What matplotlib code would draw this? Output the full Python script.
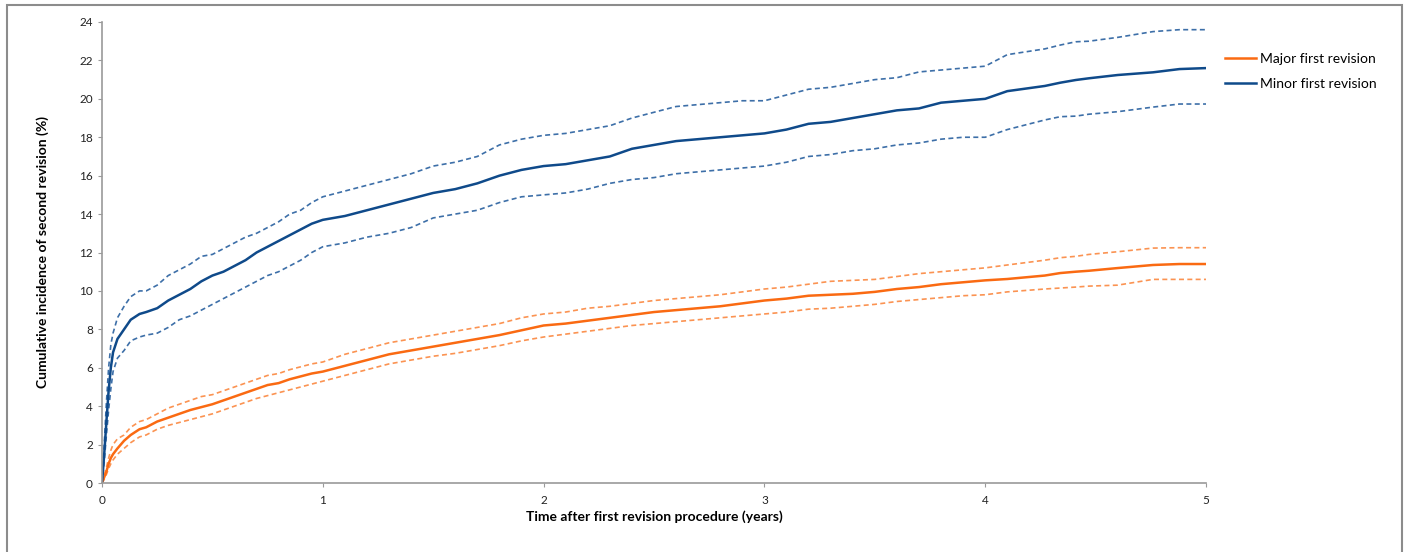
import numpy as np
import matplotlib.pyplot as plt
from matplotlib.patches import Rectangle

plt.rcParams['font.family'] = ['Lato', 'DejaVu Sans']

# time points (years)
t = [0, 0.01, 0.02, 0.03, 0.04, 0.05, 0.07, 0.1, 0.13, 0.17, 0.2, 0.25, 0.3, 0.35, 0.4, 0.45,
     0.5, 0.55, 0.6, 0.65, 0.7, 0.75, 0.8, 0.85, 0.9, 0.95, 1.0, 1.1, 1.2, 1.3, 1.4, 1.5,
     1.6, 1.7, 1.8, 1.9, 2.0, 2.1, 2.2, 2.3, 2.4, 2.5, 2.6, 2.7, 2.8, 2.9, 3.0, 3.1, 3.2,
     3.3, 3.4, 3.5, 3.6, 3.7, 3.8, 3.9, 4.0, 4.1, 4.27, 4.34, 4.41, 4.47, 4.6, 4.76, 4.88, 5.0]

minor = [0, 1.5, 3.2, 4.8, 6.0, 6.8, 7.5, 8.0, 8.5, 8.8, 8.9, 9.1, 9.5, 9.8, 10.1, 10.5,
         10.8, 11.0, 11.3, 11.6, 12.0, 12.3, 12.6, 12.9, 13.2, 13.5, 13.7, 13.9, 14.2, 14.5, 14.8, 15.1,
         15.3, 15.6, 16.0, 16.3, 16.5, 16.6, 16.8, 17.0, 17.4, 17.6, 17.8, 17.9, 18.0, 18.1, 18.2, 18.4, 18.7,
         18.8, 19.0, 19.2, 19.4, 19.5, 19.8, 19.9, 20.0, 20.4, 20.67, 20.84, 20.98, 21.07, 21.24, 21.38, 21.55, 21.6]
minor_hi = [0, 2.0, 4.2, 6.0, 7.2, 7.8, 8.6, 9.2, 9.7, 10.0, 10.0, 10.3, 10.8, 11.1, 11.4, 11.8,
            11.9, 12.2, 12.5, 12.8, 13.0, 13.3, 13.6, 14.0, 14.2, 14.6, 14.9, 15.2, 15.5, 15.8, 16.1, 16.5,
            16.7, 17.0, 17.6, 17.9, 18.1, 18.2, 18.4, 18.6, 19.0, 19.3, 19.6, 19.7, 19.8, 19.9, 19.9, 20.2, 20.5,
            20.6, 20.8, 21.0, 21.1, 21.4, 21.5, 21.6, 21.7, 22.3, 22.6, 22.8, 22.97, 23.0, 23.2, 23.5, 23.6, 23.6]
minor_lo = [0, 1.1, 2.5, 3.8, 4.9, 5.8, 6.5, 6.9, 7.4, 7.6, 7.7, 7.8, 8.1, 8.5, 8.7, 9.0,
            9.3, 9.6, 9.9, 10.2, 10.5, 10.8, 11.0, 11.3, 11.6, 12.0, 12.3, 12.5, 12.8, 13.0, 13.3, 13.8,
            14.0, 14.2, 14.6, 14.9, 15.0, 15.1, 15.3, 15.6, 15.8, 15.9, 16.1, 16.2, 16.3, 16.4, 16.5, 16.7, 17.0,
            17.1, 17.3, 17.4, 17.6, 17.7, 17.9, 18.0, 18.0, 18.4, 18.9, 19.07, 19.1, 19.2, 19.33, 19.57, 19.73, 19.73]

major = [0, 0.3, 0.6, 1.0, 1.3, 1.5, 1.8, 2.2, 2.5, 2.8, 2.9, 3.2, 3.4, 3.6, 3.8, 3.95,
         4.1, 4.3, 4.5, 4.7, 4.9, 5.1, 5.2, 5.4, 5.55, 5.7, 5.8, 6.1, 6.4, 6.7, 6.9, 7.1,
         7.3, 7.5, 7.7, 7.95, 8.2, 8.3, 8.45, 8.6, 8.75, 8.9, 9.0, 9.1, 9.2, 9.35, 9.5, 9.6, 9.75,
         9.8, 9.85, 9.95, 10.1, 10.2, 10.35, 10.45, 10.55, 10.62, 10.8, 10.93, 11.0, 11.05, 11.19, 11.35, 11.4, 11.4]
major_hi = [0, 0.4, 0.8, 1.3, 1.7, 2.0, 2.3, 2.5, 2.9, 3.2, 3.3, 3.6, 3.9, 4.1, 4.3, 4.5,
            4.6, 4.8, 5.0, 5.2, 5.4, 5.6, 5.7, 5.9, 6.05, 6.2, 6.3, 6.7, 7.0, 7.3, 7.5, 7.7,
            7.9, 8.1, 8.3, 8.6, 8.8, 8.9, 9.1, 9.2, 9.35, 9.5, 9.6, 9.7, 9.8, 9.95, 10.1, 10.2, 10.35,
            10.5, 10.55, 10.6, 10.75, 10.9, 11.0, 11.1, 11.2, 11.35, 11.6, 11.73, 11.8, 11.9, 12.04, 12.23, 12.25, 12.25]
major_lo = [0, 0.2, 0.45, 0.75, 1.0, 1.2, 1.5, 1.8, 2.1, 2.4, 2.5, 2.8, 3.0, 3.15, 3.3, 3.45,
            3.6, 3.8, 4.0, 4.2, 4.4, 4.55, 4.7, 4.85, 5.0, 5.15, 5.3, 5.6, 5.9, 6.2, 6.4, 6.6,
            6.75, 6.95, 7.15, 7.4, 7.6, 7.75, 7.9, 8.05, 8.2, 8.3, 8.4, 8.5, 8.6, 8.7, 8.8, 8.9, 9.05,
            9.1, 9.2, 9.3, 9.45, 9.55, 9.65, 9.75, 9.8, 9.95, 10.1, 10.15, 10.2, 10.25, 10.3, 10.6, 10.6, 10.6]

blue = '#0f4a8a'
blue_ci = '#3d6fa8'
orange = '#fa6a12'
orange_ci = '#fb9352'

fig = plt.figure(figsize=(14.07, 5.52), dpi=100)
fig.patches.append(Rectangle((7 / 1407, -0.1), 1395 / 1407, 1.1 - 5 / 552,
                             transform=fig.transFigure, fill=False,
                             edgecolor='#8c8c8c', linewidth=1.5))
ax = fig.add_axes([102 / 1407, 69 / 552, 1104 / 1407, 461 / 552])

ax.plot(t, major_hi, color=orange_ci, lw=1.2, ls=(0, (3, 2)))
ax.plot(t, major_lo, color=orange_ci, lw=1.2, ls=(0, (3, 2)))
ax.plot(t, minor_hi, color=blue_ci, lw=1.2, ls=(0, (3, 2)))
ax.plot(t, minor_lo, color=blue_ci, lw=1.2, ls=(0, (3, 2)))
ax.plot(t, major, color=orange, lw=1.8, label='Major first revision')
ax.plot(t, minor, color=blue, lw=1.8, label='Minor first revision')

ax.set_xlim(0, 5)
ax.set_ylim(0, 24)
ax.set_xticks(range(0, 6))
ax.set_yticks(range(0, 25, 2))
for s in ['top', 'right']:
    ax.spines[s].set_visible(False)
for s in ['left', 'bottom']:
    ax.spines[s].set_color('#9a9a9a')
    ax.spines[s].set_linewidth(1.2)
ax.tick_params(axis='both', colors='#9a9a9a', labelcolor='#222222', labelsize=8.5, length=3)
ax.tick_params(axis='x', pad=6)

ax.set_xlabel('Time after first revision procedure (years)', fontsize=10, fontweight='bold',
              labelpad=3)
ax.set_ylabel('Cumulative incidence of second revision (%)', fontsize=10, fontweight='bold',
              labelpad=22)

handles, labels = ax.get_legend_handles_labels()
ax.legend(handles, labels, loc='upper left', bbox_to_anchor=(1.006, 0.96), frameon=False,
          fontsize=10, handlelength=2.2, handletextpad=0.3, labelspacing=0.95)

fig.savefig('out.png', dpi=100)
